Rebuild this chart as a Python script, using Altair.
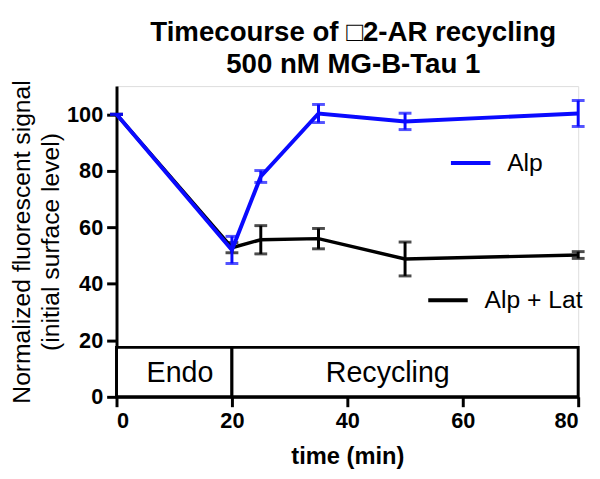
import altair as alt
import pandas as pd

times = [0, 20, 25, 35, 50, 80]
alp_mean = [100, 52, 78, 100.3, 97.5, 100.3]
alp_err = [0, 4.8, 2.1, 3.2, 2.9, 4.6]
lat_mean = [100, 52.8, 55.6, 56, 48.8, 50.2]
lat_err = [0, 1.8, 5.0, 3.6, 6.0, 1.2]

phase_labels = ["Endo", "Recycling"]
phase_start = [0, 20]
phase_end = [20, 80]
phase_label_x = [11, 47]
phase_top = 17.5

FONT = "Liberation Sans"
BLUE = "#0a0aff"

alp = pd.DataFrame({"time": times, "mean": alp_mean,
                    "lo": [m - e for m, e in zip(alp_mean, alp_err)],
                    "hi": [m + e for m, e in zip(alp_mean, alp_err)],
                    "series": "Alp"})
lat = pd.DataFrame({"time": times, "mean": lat_mean,
                    "lo": [m - e for m, e in zip(lat_mean, lat_err)],
                    "hi": [m + e for m, e in zip(lat_mean, lat_err)],
                    "series": "Alp + Lat"})
phases = pd.DataFrame({"label": phase_labels, "x0": phase_start, "x1": phase_end,
                       "mid": phase_label_x,
                       "y0": 0, "y1": phase_top, "ym": phase_top / 2})

xscale = alt.Scale(domain=[0, 80], nice=False, zero=False)
yscale = alt.Scale(domain=[0, 110], nice=False)

xaxis = alt.Axis(values=[0, 20, 40, 60, 80], title="time (min)", grid=False,
                 labelFontSize=22, labelFontWeight="bold", labelFont=FONT,
                 titleFontSize=24, titleFontWeight="bold", titleFont=FONT,
                 titlePadding=14, tickSize=10, tickWidth=3, domainWidth=3,
                 domainColor="black", tickColor="black", labelColor="black",
                 titleColor="black", labelPadding=4)
yaxis = alt.Axis(values=[0, 20, 40, 60, 80, 100],
                 title=["Normalized fluorescent signal", "(initial surface level)"],
                 grid=False, labelFontSize=22, labelFontWeight="bold", labelFont=FONT,
                 titleFontSize=25, titleFontWeight="normal", titleFont=FONT,
                 titleLineHeight=29, titlePadding=3, tickSize=10, tickWidth=3,
                 domainWidth=3, domainColor="black", tickColor="black",
                 labelColor="black", titleColor="black", labelPadding=4)

box = alt.Chart(phases).mark_rect(fill="white", stroke="black", strokeWidth=3).encode(
    x=alt.X("x0:Q", scale=xscale, axis=xaxis), x2="x1:Q",
    y=alt.Y("y0:Q", scale=yscale, axis=yaxis), y2="y1:Q")
box_text = alt.Chart(phases).mark_text(fontSize=29, font=FONT, color="black",
                                       baseline="middle", dy=1).encode(
    x=alt.X("mid:Q", scale=xscale), y=alt.Y("ym:Q", scale=yscale), text="label:N")


def series_layers(df, color, width, legend_x, legend_y):
    rule = alt.Chart(df).mark_rule(color=color, strokeWidth=3).encode(
        x=alt.X("time:Q", scale=xscale), y=alt.Y("lo:Q", scale=yscale), y2="hi:Q")
    cap_lo = alt.Chart(df).mark_tick(color=color, thickness=3, size=13,
                                     orient="horizontal").encode(
        x=alt.X("time:Q", scale=xscale), y=alt.Y("lo:Q", scale=yscale))
    cap_hi = alt.Chart(df).mark_tick(color=color, thickness=3, size=13,
                                     orient="horizontal").encode(
        x=alt.X("time:Q", scale=xscale), y=alt.Y("hi:Q", scale=yscale))
    line = alt.Chart(df).mark_line(strokeWidth=width).encode(
        x=alt.X("time:Q", scale=xscale), y=alt.Y("mean:Q", scale=yscale),
        color=alt.Color("series:N",
                        scale=alt.Scale(domain=[df["series"][0]], range=[color]),
                        legend=alt.Legend(orient="none", legendX=legend_x,
                                          legendY=legend_y, title=None,
                                          symbolType="stroke", symbolSize=1600,
                                          symbolStrokeWidth=4, labelFontSize=25,
                                          labelFont=FONT, labelColor="black",
                                          labelOffset=15, padding=0)))
    return [rule, cap_lo, cap_hi, line]


layers = [box, box_text] + series_layers(lat, "black", 3.5, 314, 195) + \
    series_layers(alp, BLUE, 4, 337, 56)

chart = alt.layer(*layers).resolve_scale(color="independent").properties(
    width=468, height=315,
    autosize=alt.AutoSizeParams(type="none"),
    padding={"left": 110, "top": 76, "right": 14, "bottom": 70},
    title=alt.TitleParams(["Timecourse of \u25a12-AR recycling", "500 nM MG-B-Tau 1"],
                          fontSize=28, fontWeight="bold", font=FONT, color="black",
                          anchor="middle", dx=6, lineHeight=32, offset=1),
).configure_view(stroke=None).configure(background="white")

chart.save("out.html", embed_options={"renderer": "svg", "actions": False})
